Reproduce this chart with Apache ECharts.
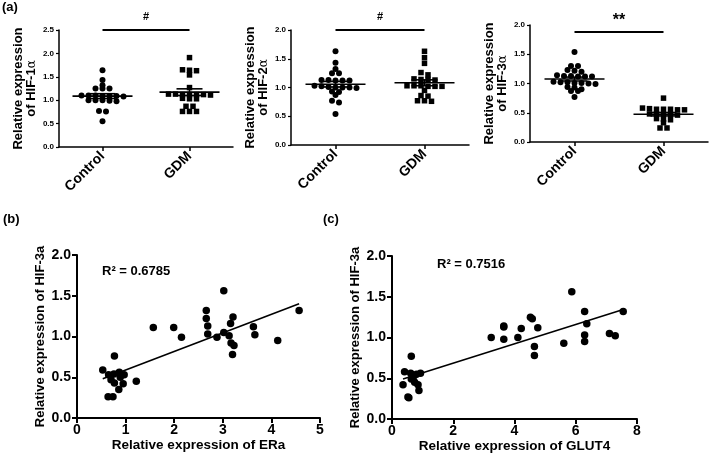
<!DOCTYPE html>
<html>
<head>
<meta charset="utf-8">
<script src="https://cdn.jsdelivr.net/npm/echarts@6/dist/echarts.min.js"></script>
<style>
  html, body { margin: 0; padding: 0; background: #fff; }
  #chart { width: 709px; height: 458px; }
</style>
</head>
<body>
<div id="chart"></div>
<script>
  // groups on the x axis of panel (a)
  var groups = ['Control', 'GDM']

  // relative expression, panel (a)
  var hif1Control = [1.64, 1.43, 1.32, 1.25, 1.25, 1.25, 1.10, 1.09, 1.10, 1.09, 1.10, 1.08, 1.09, 1.00, 0.99, 1.00, 0.98, 1.00, 0.77, 0.76, 0.55]
  var hif1Gdm = [1.91, 1.65, 1.63, 1.64, 1.54, 1.27, 1.12, 1.12, 1.13, 1.11, 1.12, 1.12, 1.13, 1.03, 1.03, 1.04, 0.87, 0.87, 0.76, 0.76, 0.76]
  var hif2Control = [1.63, 1.43, 1.32, 1.25, 1.25, 1.13, 1.12, 1.13, 1.12, 1.12, 1.03, 1.02, 1.00, 1.00, 1.01, 1.00, 0.99, 0.92, 0.93, 0.87, 0.77, 0.74, 0.54]
  var hif2Gdm = [1.63, 1.52, 1.42, 1.26, 1.22, 1.15, 1.14, 1.14, 1.13, 1.03, 1.02, 1.03, 1.02, 1.03, 1.02, 0.95, 0.86, 0.85, 0.77, 0.76, 0.77]
  var hif3Control = [1.54, 1.30, 1.30, 1.23, 1.22, 1.20, 1.14, 1.13, 1.12, 1.12, 1.13, 1.12, 1.01, 0.99, 1.02, 1.03, 1.01, 1.00, 1.02, 0.93, 0.90, 0.94, 0.87, 0.87, 0.77]
  var hif3Gdm = [0.75, 0.58, 0.56, 0.55, 0.56, 0.55, 0.56, 0.57, 0.48, 0.47, 0.47, 0.48, 0.46, 0.40, 0.38, 0.39, 0.33, 0.24, 0.24]
  var sigMarks = ['#', '#', '**']
  var sigLevels = [2.5, 2.0, 1.88]
  var axisMaxA = [2.5, 2.0, 2.0]

  // panel (b): ERa vs HIF-3a
  var eraX = [0.53, 0.77, 0.65, 0.76, 0.87, 0.97, 0.89, 0.70, 0.77, 0.95, 0.86, 0.64, 0.74, 1.22, 1.57, 1.99, 2.15, 2.66, 2.66, 2.69, 2.69, 2.88, 3.02, 3.02, 3.13, 3.17, 3.16, 3.21, 3.23, 3.20, 3.63, 3.66, 4.13, 4.57]
  var eraY = [0.59, 0.76, 0.53, 0.54, 0.56, 0.53, 0.50, 0.47, 0.43, 0.42, 0.35, 0.26, 0.26, 0.45, 1.11, 1.11, 0.99, 1.32, 1.22, 1.13, 1.03, 0.99, 1.56, 1.05, 1.01, 0.92, 1.16, 1.24, 0.89, 0.78, 1.12, 1.02, 0.95, 1.32]
  // panel (c): GLUT4 vs HIF-3a
  var glutX = [0.36, 0.41, 0.63, 0.52, 0.55, 0.61, 0.72, 0.80, 0.93, 0.63, 0.74, 0.85, 0.88, 0.67, 3.24, 3.65, 3.65, 3.65, 4.11, 4.22, 4.52, 4.58, 4.76, 4.65, 4.65, 5.61, 5.87, 6.29, 6.36, 6.29, 6.29, 7.10, 7.29, 7.55]
  var glutY = [0.42, 0.58, 0.77, 0.27, 0.26, 0.56, 0.53, 0.55, 0.56, 0.49, 0.45, 0.42, 0.35, 0.50, 1.00, 1.13, 0.98, 1.14, 1.00, 1.11, 1.25, 1.23, 1.12, 0.89, 0.78, 0.93, 1.56, 1.32, 1.17, 1.03, 0.95, 1.05, 1.02, 1.32]
  var r2Labels = ['R\u00b2 = 0.6785', 'R\u00b2 = 0.7516']

  var FONT = '"Liberation Sans", Arial, sans-serif'
  var BLACK = '#000'

  var gridsA = [
    {left: 59, top: 30, width: 174, height: 117},
    {left: 291, top: 30, width: 178, height: 115},
    {left: 530, top: 25, width: 178, height: 117}
  ]
  var gridsXY = [
    {left: 77, top: 255, width: 243, height: 163},
    {left: 392, top: 256, width: 245, height: 163}
  ]

  function meanSem (arr) {
    var n = arr.length
    var m = arr.reduce(function (s, v) { return s + v }, 0) / n
    var ss = arr.reduce(function (s, v) { return s + (v - m) * (v - m) }, 0)
    return [m, Math.sqrt(ss / (n - 1)) / Math.sqrt(n)]
  }

  // rows of near-equal values are spread sideways, centred on the group
  function swarm (vals, pxPerUnit, step, rowPx) {
    var offs = new Array(vals.length)
    var order = vals.map(function (v, i) { return i })
      .sort(function (a, b) { return vals[b] - vals[a] })
    var rows = []
    var cur = null
    order.forEach(function (i) {
      if (cur && (vals[cur[0]] - vals[i]) * pxPerUnit <= rowPx) {
        cur.push(i)
      } else {
        cur = [i]
        rows.push(cur)
      }
    })
    rows.forEach(function (r) {
      r.forEach(function (i, k) { offs[i] = (k - (r.length - 1) / 2) * step })
    })
    return offs
  }

  function linFit (xs, ys) {
    var n = xs.length
    var mx = xs.reduce(function (s, v) { return s + v }, 0) / n
    var my = ys.reduce(function (s, v) { return s + v }, 0) / n
    var sxy = 0
    var sxx = 0
    for (var i = 0; i < n; i++) {
      sxy += (xs[i] - mx) * (ys[i] - my)
      sxx += (xs[i] - mx) * (xs[i] - mx)
    }
    var b = sxy / sxx
    var a = my - b * mx
    var x0 = Math.min.apply(null, xs)
    var x1 = Math.max.apply(null, xs)
    return [[x0, a + b * x0], [x1, a + b * x1]]
  }

  var dataA = [[hif1Control, hif1Gdm], [hif2Control, hif2Gdm], [hif3Control, hif3Gdm]]

  var grid = []
  var xAxis = []
  var yAxis = []
  var series = []

  dataA.forEach(function (pair, i) {
    var g = gridsA[i]
    grid.push({left: g.left, top: g.top, width: g.width, height: g.height, outerBoundsMode: 'none'})
    xAxis.push({
      type: 'category',
      gridIndex: i,
      data: groups,
      boundaryGap: true,
      axisLine: {show: true, lineStyle: {color: BLACK, width: 1.5}},
      axisTick: {show: true, alignWithLabel: true, length: 4, lineStyle: {color: BLACK, width: 1.5}},
      axisLabel: {rotate: 45, margin: 7, color: BLACK, fontFamily: FONT, fontWeight: 'bold', fontSize: 14},
      splitLine: {show: false}
    })
    yAxis.push({
      type: 'value',
      gridIndex: i,
      min: 0,
      max: axisMaxA[i],
      interval: 0.5,
      name: '{n|Relative expression}\n{n|of HIF-' + (i + 1) + '}{g|\u03b1}',
      nameLocation: 'middle',
      nameGap: 21,
      nameRotate: 90,
      nameTextStyle: {
        rich: {
          n: {fontFamily: FONT, fontWeight: 'bold', fontSize: 13, color: BLACK, lineHeight: 13},
          g: {fontFamily: '"DejaVu Serif", serif', fontSize: 12, color: BLACK, lineHeight: 13}
        }
      },
      axisLine: {show: true, lineStyle: {color: BLACK, width: 1.5}},
      axisTick: {show: true, length: 3, lineStyle: {color: BLACK, width: 1.2}},
      axisLabel: {
        margin: 5, color: BLACK, fontFamily: FONT, fontWeight: 'bold', fontSize: 8,
        formatter: function (v) { return v.toFixed(1) }
      },
      splitLine: {show: false}
    })
    var pxPerUnit = g.height / axisMaxA[i]
    pair.forEach(function (vals, c) {
      var offs = swarm(vals, pxPerUnit, 7, 3.2)
      series.push({
        type: 'scatter',
        xAxisIndex: i,
        yAxisIndex: i,
        symbol: c === 0 ? 'circle' : 'rect',
        symbolSize: c === 0 ? 6 : 5.5,
        itemStyle: {color: BLACK, opacity: 1},
        z: 2,
        data: vals.map(function (v, k) {
          return {value: [c, v], symbolOffset: [offs[k], 0]}
        })
      })
    })
    // mean with SEM
    series.push({
      type: 'custom',
      xAxisIndex: i,
      yAxisIndex: i,
      z: 3,
      data: pair.map(function (vals, c) { var ms = meanSem(vals); return [c, ms[0], ms[1]] }),
      renderItem: function (params, api) {
        var c = api.coord([api.value(0), api.value(1)])
        var up = api.coord([api.value(0), api.value(1) + api.value(2)])
        var dn = api.coord([api.value(0), api.value(1) - api.value(2)])
        var st = {stroke: BLACK, lineWidth: 1.6}
        return {
          type: 'group',
          children: [
            {type: 'line', shape: {x1: c[0] - 30, y1: c[1], x2: c[0] + 30, y2: c[1]}, style: st},
            {type: 'line', shape: {x1: c[0], y1: up[1], x2: c[0], y2: dn[1]}, style: st},
            {type: 'line', shape: {x1: c[0] - 13, y1: up[1], x2: c[0] + 13, y2: up[1]}, style: st},
            {type: 'line', shape: {x1: c[0] - 13, y1: dn[1], x2: c[0] + 13, y2: dn[1]}, style: st}
          ]
        }
      }
    })
    // significance bar
    var mark = sigMarks[i]
    series.push({
      type: 'custom',
      xAxisIndex: i,
      yAxisIndex: i,
      z: 3,
      clip: false,
      data: [[0, 1, sigLevels[i]]],
      renderItem: function (params, api) {
        var p0 = api.coord([api.value(0), api.value(2)])
        var p1 = api.coord([api.value(1), api.value(2)])
        var big = mark === '**'
        return {
          type: 'group',
          children: [
            {type: 'line', shape: {x1: p0[0], y1: p0[1], x2: p1[0], y2: p1[1]}, style: {stroke: BLACK, lineWidth: 2}},
            {
              type: 'text',
              x: (p0[0] + p1[0]) / 2,
              y: p0[1] - (big ? 3 : 8),
              style: {
                text: mark, fill: BLACK, align: 'center', verticalAlign: 'bottom',
                font: 'bold ' + (big ? 16 : 11) + 'px ' + FONT
              }
            }
          ]
        }
      }
    })
  })

  var xyData = [
    {xs: eraX, ys: eraY, max: 5, interval: 1, name: 'Relative expression of ERa'},
    {xs: glutX, ys: glutY, max: 8, interval: 2, name: 'Relative expression of GLUT4'}
  ]

  xyData.forEach(function (d, j) {
    var idx = 3 + j
    var g = gridsXY[j]
    grid.push({left: g.left, top: g.top, width: g.width, height: g.height, outerBoundsMode: 'none'})
    xAxis.push({
      type: 'value',
      gridIndex: idx,
      min: 0,
      max: d.max,
      interval: d.interval,
      name: d.name,
      nameLocation: 'middle',
      nameGap: 17,
      nameTextStyle: {color: BLACK, fontFamily: FONT, fontWeight: 'bold', fontSize: 13.5},
      axisLine: {show: true, onZero: false, lineStyle: {color: BLACK, width: 2}},
      axisTick: {show: true, length: 5, lineStyle: {color: BLACK, width: 2}},
      axisLabel: {margin: 5, color: BLACK, fontFamily: FONT, fontWeight: 'bold', fontSize: 14},
      splitLine: {show: false}
    })
    yAxis.push({
      type: 'value',
      gridIndex: idx,
      min: 0,
      max: 2,
      interval: 0.5,
      name: 'Relative expression of HIF-3a',
      nameLocation: 'middle',
      nameGap: 30,
      nameRotate: 90,
      nameTextStyle: {color: BLACK, fontFamily: FONT, fontWeight: 'bold', fontSize: 13},
      axisLine: {show: true, onZero: false, lineStyle: {color: BLACK, width: 2}},
      axisTick: {show: true, length: 5, lineStyle: {color: BLACK, width: 2}},
      axisLabel: {
        margin: 6, color: BLACK, fontFamily: FONT, fontWeight: 'bold', fontSize: 14,
        formatter: function (v) { return v.toFixed(1) }
      },
      splitLine: {show: false}
    })
    series.push({
      type: 'scatter',
      xAxisIndex: idx,
      yAxisIndex: idx,
      symbol: 'circle',
      symbolSize: 7.5,
      itemStyle: {color: BLACK, opacity: 1},
      data: d.xs.map(function (x, k) { return [x, d.ys[k]] })
    })
    series.push({
      type: 'line',
      xAxisIndex: idx,
      yAxisIndex: idx,
      symbol: 'none',
      lineStyle: {color: BLACK, width: 1.6},
      z: 3,
      data: linFit(d.xs, d.ys)
    })
  })

  var textStyle = function (t, size) {
    return {text: t, fill: BLACK, font: 'bold ' + size + 'px ' + FONT}
  }

  var option = {
    animation: false,
    backgroundColor: '#fff',
    grid: grid,
    xAxis: xAxis,
    yAxis: yAxis,
    series: series,
    graphic: [
      {type: 'text', left: 2, top: 1, style: textStyle('(a)', 13)},
      {type: 'text', left: 3, top: 213, style: textStyle('(b)', 13)},
      {type: 'text', left: 323, top: 213, style: textStyle('(c)', 13)},
      {type: 'text', left: 102, top: 265, style: textStyle(r2Labels[0], 13)},
      {type: 'text', left: 437, top: 258, style: textStyle(r2Labels[1], 13)}
    ]
  }

  var chart = echarts.init(document.getElementById('chart'), null, {renderer: 'canvas'})
  chart.setOption(option)
</script>
</body>
</html>
